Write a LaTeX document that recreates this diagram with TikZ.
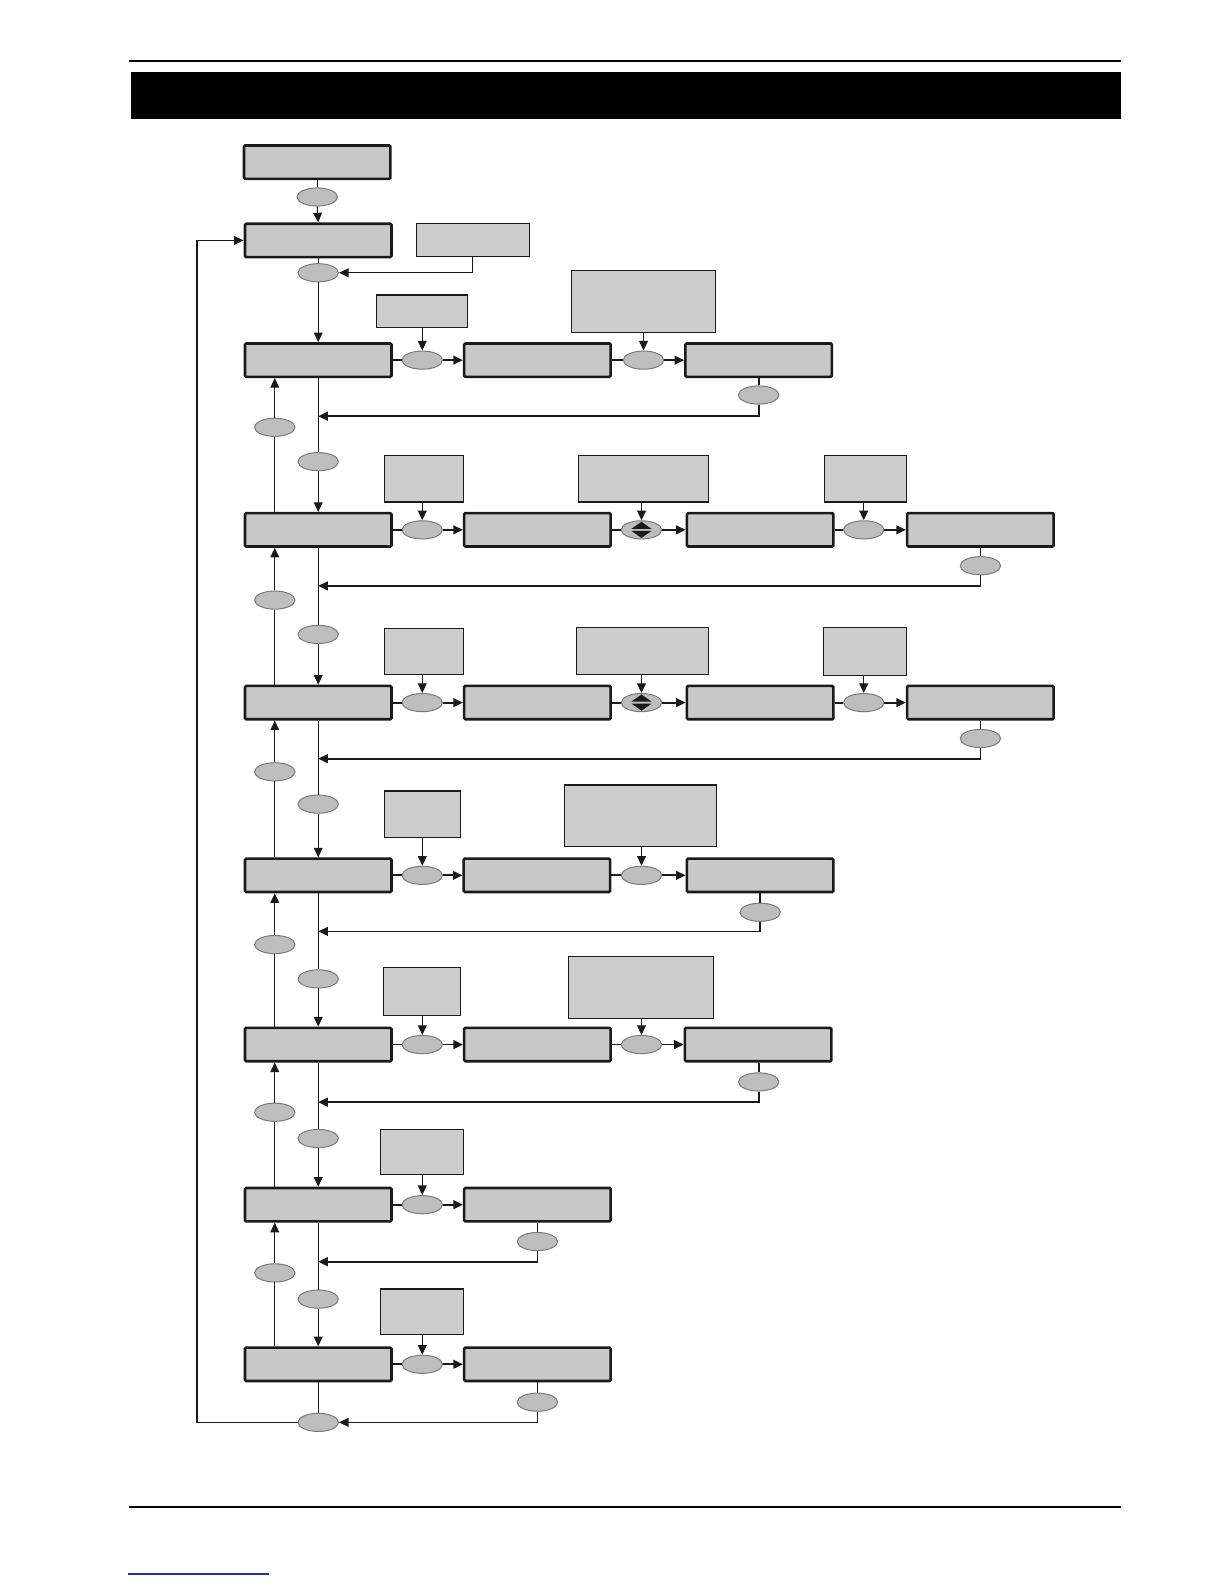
\documentclass[tikz,border=0pt]{standalone}
\usepackage{xcolor}
\usepackage{tikz}
\usetikzlibrary{arrows.meta,shapes.geometric,calc}
\definecolor{fcInk}{HTML}{1A1A1A}
\definecolor{fcBox}{HTML}{C8C8C8}
\definecolor{fcSide}{HTML}{CCCCCC}
\definecolor{fcOval}{HTML}{BEBEBE}
\definecolor{fcOvalLine}{HTML}{7A7A7A}
\definecolor{fcLink}{HTML}{1F2F9F}
\newcommand{\pxu}{0.505pt}
\tikzset{
  mbox/.style={rectangle,rounded corners=0.6pt,inner sep=0pt,
    minimum width=145*\pxu,minimum height=33*\pxu,
    draw=fcInk,line width=1.3pt,fill=fcBox},
  abox/.style 2 args={rectangle,inner sep=0pt,
    minimum width=#1*\pxu,minimum height=#2*\pxu,
    draw=fcInk,line width=0.6pt,fill=fcSide},
  oval/.style={ellipse,inner sep=0pt,
    minimum width=40*\pxu,minimum height=18*\pxu,
    draw=fcOvalLine,line width=0.5pt,fill=fcOval},
  ln/.style={line width=0.55pt,color=fcInk},
  lnw/.style={line width=0.9pt,color=fcInk},
  arr/.style={-{Triangle[length=4.8pt,width=4.4pt]},line width=0.55pt,color=fcInk},
  arrw/.style={-{Triangle[length=4.8pt,width=4.4pt]},line width=0.9pt,color=fcInk},
}

\begin{document}
\begin{tikzpicture}[x=0.505pt,y=-0.505pt]
  \useasboundingbox (0,0) rectangle (1212,1568);

  % page frame
  \draw[line width=0.9pt] (128,60) -- (1110,60);
  \fill[black] (130,71) rectangle (1110,118);
  \draw[line width=0.9pt] (128,1492) -- (1110,1492);
  \draw[line width=0.9pt,fcLink] (127,1558) -- (266,1558);

  % top of the chain
  \node[mbox] (p0) at (314,160.5) {};
  \node[oval] (o0) at (314,195) {};
  \node[mbox] (pb) at (315,238) {};
  \node[abox={112}{33}] (s1) at (468,237.5) {};
  \node[oval] (o1) at (315,270) {};
  \coordinate (lp) at (195,238);

  % row 1
  \node[mbox] (p1)  at (315,356.5) {};
  \node[mbox] (p1b) at (532,356.5) {};
  \node[mbox] (p1c) at (751,356.5) {};
  \node[oval] (e1a) at (418,356.5) {};
  \node[oval] (e1b) at (637,356.5) {};
  \node[abox={90}{32}]  (i1a) at (418,308) {};
  \node[abox={142}{61}] (i1b) at (637,298.5) {};
  \node[oval] (t1) at (751,391) {};
  \coordinate (j1) at (751,412);

  % row 2
  \node[mbox] (p2)  at (315,524.5) {};
  \node[mbox] (p2b) at (532,524.5) {};
  \node[mbox] (p2c) at (752.5,524.5) {};
  \node[mbox] (p2d) at (970.5,524.5) {};
  \node[oval] (e2a) at (418,524.5) {};
  \node[oval] (e2b) at (635,524.5) {};
  \node[oval] (e2c) at (855,524.5) {};
  \node[abox={78}{46}]  (i2a) at (420,474) {};
  \node[abox={128}{46}] (i2b) at (637,474) {};
  \node[abox={81}{46}]  (i2c) at (856.5,474) {};
  \node[oval] (t2) at (970.5,560) {};
  \coordinate (j2) at (970.5,580);

  % row 3
  \node[mbox] (p3)  at (315,695.5) {};
  \node[mbox] (p3b) at (532,695.5) {};
  \node[mbox] (p3c) at (752.5,695.5) {};
  \node[mbox] (p3d) at (970.5,695.5) {};
  \node[oval] (e3a) at (418,695.5) {};
  \node[oval] (e3b) at (635,695.5) {};
  \node[oval] (e3c) at (855,695.5) {};
  \node[abox={78}{46}]  (i3a) at (420,645) {};
  \node[abox={130}{47}] (i3b) at (636,644.5) {};
  \node[abox={82}{47}]  (i3c) at (856,645) {};
  \node[oval] (t3) at (970.5,731) {};
  \coordinate (j3) at (970.5,751);

  % row 4
  \node[mbox] (p4)  at (315,866.5) {};
  \node[mbox] (p4b) at (531.5,866.5) {};
  \node[mbox] (p4c) at (752.5,866.5) {};
  \node[oval] (e4a) at (418,866.5) {};
  \node[oval] (e4b) at (635,866.5) {};
  \node[abox={75}{46}]  (i4a) at (418.5,806) {};
  \node[abox={150}{61}] (i4b) at (634,807.5) {};
  \node[oval] (t4) at (752.5,903) {};
  \coordinate (j4) at (752.5,922);

  % row 5
  \node[mbox] (p5)  at (315,1034) {};
  \node[mbox] (p5b) at (532,1034) {};
  \node[mbox] (p5c) at (750.5,1034) {};
  \node[oval] (e5a) at (418,1034) {};
  \node[oval] (e5b) at (635,1034) {};
  \node[abox={76}{47}]  (i5a) at (418,981.5) {};
  \node[abox={143}{61}] (i5b) at (634.5,977.5) {};
  \node[oval] (t5) at (751,1071) {};
  \coordinate (j5) at (751,1091);

  % row 6
  \node[mbox] (p6)  at (315,1192.5) {};
  \node[mbox] (p6b) at (532,1192.5) {};
  \node[oval] (e6a) at (418,1192.5) {};
  \node[abox={82}{45}] (i6a) at (418,1140.5) {};
  \node[oval] (t6) at (532,1229) {};
  \coordinate (j6) at (532,1249);

  % row 7
  \node[mbox] (p7)  at (315,1350.5) {};
  \node[mbox] (p7b) at (532,1350.5) {};
  \node[oval] (e7a) at (418,1350.5) {};
  \node[abox={82}{45}] (i7a) at (418,1298.5) {};
  \node[oval] (t7) at (532,1388) {};
  \node[oval] (v7) at (315,1408) {};

  % ovals on the down and up lines
  \foreach \i/\y in {1/457,2/628,3/796,4/969,5/1127,6/1286}
    \node[oval] (v\i) at (315,\y) {};
  \foreach \i/\y in {1/423,2/594,3/764,4/935,5/1101,6/1260}
    \node[oval] (w\i) at (272,\y) {};

  % up/down keys
  \foreach \k in {e2b,e3b} {
    \fill[fcInk] (\k.center) ++(-10,-1) -- ++(20,0) -- ++(-10,-7) -- cycle;
    \fill[fcInk] (\k.center) ++(-10,1) -- ++(20,0) -- ++(-10,7) -- cycle;
  }

  % top connectors
  \draw[ln] (p0.south) -- (o0.north);
  \draw[arr] (o0.south) -- (pb.north);
  \draw[ln] (pb.south) -- (o1.north);
  \draw[arr] (o1.south) -- (p1.north);
  \draw[arr] (s1.south) |- (o1.east);

  % down chain and up chain
  \foreach \i/\j in {1/2,2/3,3/4,4/5,5/6,6/7} {
    \draw[ln] (p\i.south) -- (v\i.north);
    \draw[arr] (v\i.south) -- (p\j.north);
    \draw[ln] (p\j.north -| w\i) -- (w\i.south);
    \draw[arr] (w\i.north) -- (p\i.south -| w\i);
  }

  % along the rows
  \foreach \a/\e/\b in {p1/e1a/p1b,p1b/e1b/p1c,
      p2/e2a/p2b,p2b/e2b/p2c,p2c/e2c/p2d,
      p3/e3a/p3b,p3b/e3b/p3c,p3c/e3c/p3d,
      p4/e4a/p4b,p4b/e4b/p4c,p5/e5a/p5b,p5b/e5b/p5c,
      p6/e6a/p6b,p7/e7a/p7b} {
    \draw[lnw] (\a.east) -- (\e.west);
    \draw[arrw] (\e.east) -- (\b.west);
  }
  \foreach \i/\e in {i1a/e1a,i1b/e1b,i2a/e2a,i2b/e2b,i2c/e2c,
      i3a/e3a,i3b/e3b,i3c/e3c,i4a/e4a,i4b/e4b,i5a/e5a,i5b/e5b,
      i6a/e6a,i7a/e7a}
    \draw[arr] (\e.north |- \i.south) -- (\e.north);

  % way back to the main column
  \foreach \b/\t/\j/\r in {p1c/t1/j1/p1,p2d/t2/j2/p2,p3d/t3/j3/p3,
      p4c/t4/j4/p4,p5c/t5/j5/p5,p6b/t6/j6/p6} {
    \draw[lnw] (\t.north |- \b.south) -- (\t.north);
    \draw[arrw] (\t.south) -- (\j) -- (\j -| \r);
  }
  \draw[ln] (t7.north |- p7b.south) -- (t7.north);
  \draw[arr] (t7.south) |- (v7.east);
  \draw[ln] (p7.south) -- (v7.north);
  \draw[arr] (v7.west) -| (lp) -- (pb.west);

\end{tikzpicture}
\end{document}
